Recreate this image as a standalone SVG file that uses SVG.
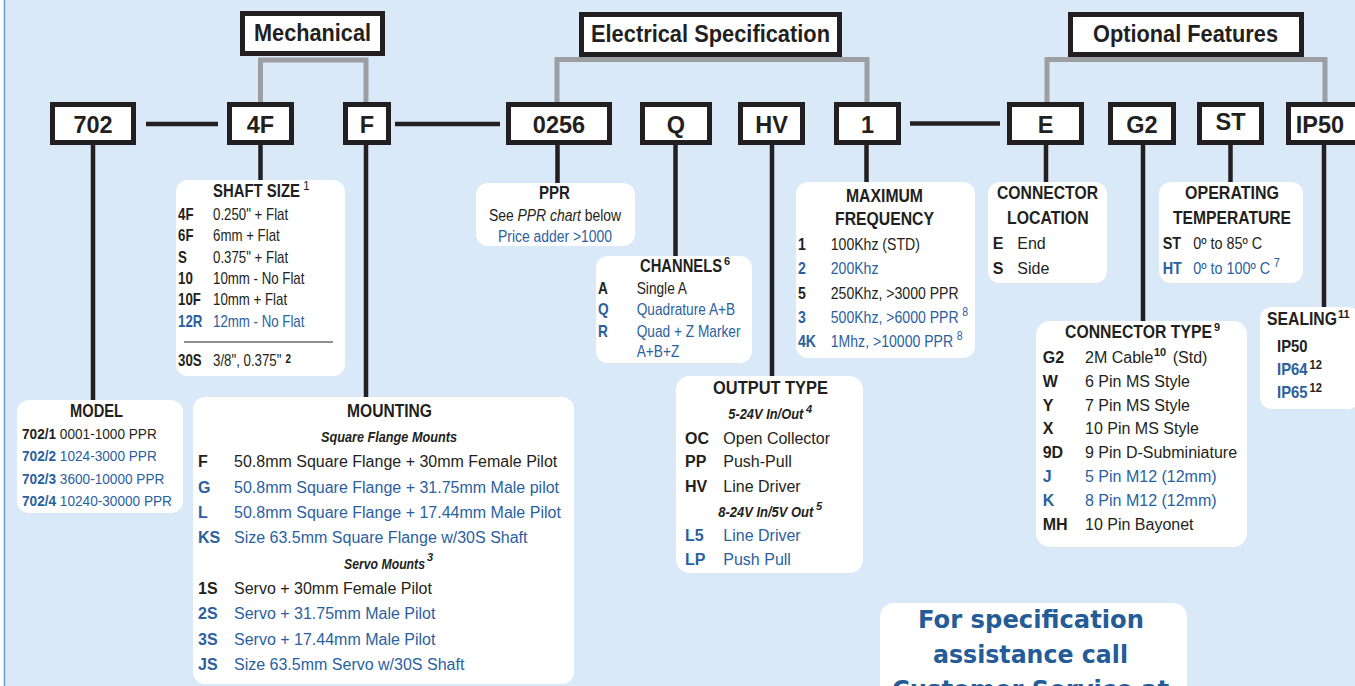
<svg xmlns="http://www.w3.org/2000/svg" width="1355" height="686" viewBox="0 0 1355 686">
<defs>
<style>
.t{font-family:'Liberation Sans',Arial,sans-serif;font-size:16px;fill:#231f20}
.m{font-size:15.5px}
.b{font-weight:bold}
.i{font-style:italic}
.u{fill:#2b5f9f}
.k{fill:#231f20}
.ttl{font-family:'Liberation Sans',Arial,sans-serif;font-weight:bold;font-size:18.5px;fill:#231f20}
.sub{font-family:'Liberation Sans',Arial,sans-serif;font-weight:bold;font-style:italic;font-size:14.5px;fill:#231f20}
.code{font-family:'Liberation Sans',Arial,sans-serif;font-weight:bold;font-size:23.5px;fill:#231f20;text-anchor:middle}
.hdr{font-family:'Liberation Sans',Arial,sans-serif;font-weight:bold;font-size:24px;fill:#231f20}
.mid{text-anchor:middle}
.sup{font-size:11px}
.cbox{fill:#fff;stroke:#231f20;stroke-width:5}
.ibox{fill:#fff}
.ln{stroke:#231f20;stroke-width:4.5;fill:none}
.gr{stroke:#9c9ea1;stroke-width:5;fill:none}
.call{font-family:'DejaVu Sans',Verdana,sans-serif;font-weight:bold;font-size:25.5px;fill:#245c98}
</style>
</defs>

<rect x="0" y="0" width="1355" height="686" fill="#d9e9f7"/>
<rect x="0" y="0" width="4" height="686" fill="#ffffff"/>
<line x1="4.5" y1="0" x2="4.5" y2="686" stroke="#6d9fd0" stroke-width="1.5"/>

<g id="connectors">
<polyline class="gr" points="260.5,102 260.5,60 366,60 366,102"/>
<polyline class="gr" points="557,102 557,59.5 867,59.5 867,102"/>
<polyline class="gr" points="1047,102 1047,59.5 1325,59.5 1325,102"/>
<line class="ln" stroke-width="5" x1="146" y1="124" x2="218" y2="124"/>
<line class="ln" stroke-width="5" x1="395" y1="124" x2="500" y2="124"/>
<line class="ln" stroke-width="5" x1="910" y1="123.5" x2="1000" y2="123.5"/>
<line class="ln" x1="93" y1="145" x2="93" y2="402" stroke="#0f1c28"/>
<line class="ln" x1="260.5" y1="145" x2="260.5" y2="182"/>
<line class="ln" x1="366" y1="145" x2="366" y2="399"/>
<line class="ln" x1="557.5" y1="145" x2="557.5" y2="185" stroke="#0f1c28"/>
<line class="ln" x1="675.5" y1="145" x2="675.5" y2="258"/>
<line class="ln" x1="772" y1="145" x2="772" y2="378"/>
<line class="ln" x1="866.5" y1="145" x2="866.5" y2="184"/>
<line class="ln" x1="1046" y1="145" x2="1046" y2="184"/>
<line class="ln" x1="1143" y1="145" x2="1143" y2="323"/>
<line class="ln" x1="1230.5" y1="145" x2="1230.5" y2="184"/>
<line class="ln" x1="1324" y1="145" x2="1324" y2="309"/>
</g>

<g id="hdr-mechanical">
<rect class="cbox" x="242.5" y="13.5" width="140" height="40"/>
<text class="hdr" x="254" y="41" textLength="117" lengthAdjust="spacingAndGlyphs">Mechanical</text>
</g>
<g id="hdr-electrical">
<rect class="cbox" x="581.5" y="14.5" width="258" height="40"/>
<text class="hdr" x="591" y="41.5" textLength="239" lengthAdjust="spacingAndGlyphs">Electrical Specification</text>
</g>
<g id="hdr-optional">
<rect class="cbox" x="1070.5" y="14.5" width="231" height="40"/>
<text class="hdr" x="1093" y="41.5" textLength="185" lengthAdjust="spacingAndGlyphs">Optional Features</text>
</g>

<g id="code-702"><rect class="cbox" x="52.5" y="104.5" width="81" height="38" stroke="#0f1c28"/><text class="code" x="93" y="132.5">702</text></g>
<g id="code-4F"><rect class="cbox" x="229.5" y="104.5" width="62" height="38"/><text class="code" x="260.5" y="132.5">4F</text></g>
<g id="code-F"><rect class="cbox" x="345.5" y="104.5" width="43" height="38"/><text class="code" x="367" y="132.5">F</text></g>
<g id="code-0256"><rect class="cbox" x="508.5" y="104.5" width="101" height="38"/><text class="code" x="559" y="132.5">0256</text></g>
<g id="code-Q"><rect class="cbox" x="642.5" y="104.5" width="67" height="38"/><text class="code" x="676" y="132.5">Q</text></g>
<g id="code-HV"><rect class="cbox" x="740.5" y="104.5" width="62" height="38"/><text class="code" x="771.5" y="132.5">HV</text></g>
<g id="code-1"><rect class="cbox" x="836.5" y="104.5" width="62" height="38"/><text class="code" x="867.5" y="132.5">1</text></g>
<g id="code-E"><rect class="cbox" x="1009.5" y="104.5" width="72" height="38"/><text class="code" x="1045.5" y="132.5">E</text></g>
<g id="code-G2"><rect class="cbox" x="1110.5" y="104.5" width="63" height="38"/><text class="code" x="1142" y="132.5">G2</text></g>
<g id="code-ST"><rect class="cbox" x="1199.5" y="104.5" width="62" height="38"/><text class="code" x="1230.5" y="130">ST</text></g>
<g id="code-IP50"><rect class="cbox" x="1288.5" y="104.5" width="72" height="38"/><text class="code" x="1320" y="132.5">IP50</text></g>

<g id="shaft-size">
<rect class="ibox" x="176" y="180" width="169" height="196" rx="12"/>
<text class="ttl" x="213" y="197" textLength="87" lengthAdjust="spacingAndGlyphs">SHAFT SIZE</text>
<text class="t sup" x="303" y="190" style="font-size:12px">1</text>
<g transform="translate(178,0) scale(0.83,1)">
<text class="t b" x="0" y="220">4F</text><text class="t" x="42.2" y="220">0.250" + Flat</text>
<text class="t b" x="0" y="241.3">6F</text><text class="t" x="42.2" y="241.3">6mm + Flat</text>
<text class="t b" x="0" y="262.7">S</text><text class="t" x="42.2" y="262.7">0.375" + Flat</text>
<text class="t b" x="0" y="284">10</text><text class="t" x="42.2" y="284">10mm - No Flat</text>
<text class="t b" x="0" y="305.3">10F</text><text class="t" x="42.2" y="305.3">10mm + Flat</text>
<text class="t b u" x="0" y="326.7">12R</text><text class="t u" x="42.2" y="326.7">12mm - No Flat</text>
<text class="t b" x="0" y="366">30S</text><text class="t" x="42.2" y="366">3/8", 0.375"<tspan class="b" style="font-size:12px" dx="5" dy="-3">2</tspan></text>
</g>
<line x1="184" y1="342" x2="333" y2="342" stroke="#231f20" stroke-width="1"/>
</g>

<g id="model">
<rect class="ibox" x="17" y="400" width="166" height="113" rx="12"/>
<text class="ttl" x="70" y="417" textLength="53" lengthAdjust="spacingAndGlyphs">MODEL</text>
<g transform="translate(22,0) scale(0.88,1)">
<text class="t m" x="0" y="439"><tspan class="b">702/1</tspan> 0001-1000 PPR</text>
<text class="t m u" x="0" y="461.5"><tspan class="b">702/2</tspan> 1024-3000 PPR</text>
<text class="t m u" x="0" y="484"><tspan class="b">702/3</tspan> 3600-10000 PPR</text>
<text class="t m u" x="0" y="506.5"><tspan class="b">702/4</tspan> 10240-30000 PPR</text>
</g>
</g>

<g id="mounting">
<rect class="ibox" x="193" y="397" width="381" height="287" rx="12"/>
<text class="ttl" x="347" y="417" textLength="85" lengthAdjust="spacingAndGlyphs">MOUNTING</text>
<text class="sub" x="321" y="442" textLength="136" lengthAdjust="spacingAndGlyphs">Square Flange Mounts</text>
<text class="t b" x="198" y="467.3">F</text><text class="t" x="234" y="467.3">50.8mm Square Flange + 30mm Female Pilot</text>
<text class="t b u" x="198" y="492.7">G</text><text class="t u" x="234" y="492.7">50.8mm Square Flange + 31.75mm Male pilot</text>
<text class="t b u" x="198" y="518.3">L</text><text class="t u" x="234" y="518.3">50.8mm Square Flange + 17.44mm Male Pilot</text>
<text class="t b u" x="198" y="543.3">KS</text><text class="t u" x="234" y="543.3">Size 63.5mm Square Flange w/30S Shaft</text>
<text class="sub" x="344" y="569" textLength="81" lengthAdjust="spacingAndGlyphs">Servo Mounts</text>
<text class="sub sup" x="427" y="561">3</text>
<text class="t b" x="198" y="594.3">1S</text><text class="t" x="234" y="594.3">Servo + 30mm Female Pilot</text>
<text class="t b u" x="198" y="619.3">2S</text><text class="t u" x="234" y="619.3">Servo + 31.75mm Male Pilot</text>
<text class="t b u" x="198" y="644.7">3S</text><text class="t u" x="234" y="644.7">Servo + 17.44mm Male Pilot</text>
<text class="t b u" x="198" y="670">JS</text><text class="t u" x="234" y="670">Size 63.5mm Servo w/30S Shaft</text>
</g>

<g id="ppr">
<rect class="ibox" x="476" y="183" width="159" height="63" rx="12"/>
<text class="ttl" x="539" y="199" textLength="31" lengthAdjust="spacingAndGlyphs">PPR</text>
<g transform="translate(555,0) scale(0.87,1)">
<text class="t mid" x="0" y="220.7">See <tspan class="i">PPR chart</tspan> below</text>
<text class="t u mid" x="0" y="241.7">Price adder &gt;1000</text>
</g>
</g>

<g id="channels">
<rect class="ibox" x="596" y="256" width="156" height="107" rx="12"/>
<text class="ttl" x="640" y="271.7" textLength="82" lengthAdjust="spacingAndGlyphs">CHANNELS</text>
<text class="ttl sup" x="724" y="265">6</text>
<g transform="translate(598,0) scale(0.855,1)">
<text class="t b" x="0" y="294.3">A</text><text class="t" x="45.3" y="294.3">Single A</text>
<text class="t b u" x="0" y="315.3">Q</text><text class="t u" x="45.3" y="315.3">Quadrature A+B</text>
<text class="t b u" x="0" y="336.7">R</text><text class="t u" x="45.3" y="336.7">Quad + Z Marker</text>
<text class="t u" x="45.3" y="357">A+B+Z</text>
</g>
</g>

<g id="output-type">
<rect class="ibox" x="676" y="376" width="187" height="197" rx="14"/>
<text class="ttl" x="713" y="394" textLength="115" lengthAdjust="spacingAndGlyphs">OUTPUT TYPE</text>
<text class="sub" x="728.3" y="419.3" textLength="75" lengthAdjust="spacingAndGlyphs">5-24V In/Out</text>
<text class="sub sup" x="806" y="413">4</text>
<text class="t b" x="685" y="444">OC</text><text class="t" x="723.3" y="444">Open Collector</text>
<text class="t b" x="685" y="467">PP</text><text class="t" x="723.3" y="467">Push-Pull</text>
<text class="t b" x="685" y="491.7">HV</text><text class="t" x="723.3" y="491.7">Line Driver</text>
<text class="sub" x="718.3" y="516.7" textLength="95" lengthAdjust="spacingAndGlyphs">8-24V In/5V Out</text>
<text class="sub sup" x="816" y="510">5</text>
<text class="t b u" x="685" y="540.7">L5</text><text class="t u" x="723.3" y="540.7">Line Driver</text>
<text class="t b u" x="685" y="565">LP</text><text class="t u" x="723.3" y="565">Push Pull</text>
</g>

<g id="max-frequency">
<rect class="ibox" x="796" y="182" width="179" height="176" rx="12"/>
<text class="ttl" x="846" y="201.7" textLength="77" lengthAdjust="spacingAndGlyphs">MAXIMUM</text>
<text class="ttl" x="835" y="225" textLength="99" lengthAdjust="spacingAndGlyphs">FREQUENCY</text>
<g transform="translate(798,0) scale(0.88,1)">
<text class="t b" x="0" y="250.5">1</text><text class="t" x="37.2" y="250.5">100Khz (STD)</text>
<text class="t b u" x="0" y="274.5">2</text><text class="t u" x="37.2" y="274.5">200Khz</text>
<text class="t b" x="0" y="299.5">5</text><text class="t" x="37.2" y="299.5">250Khz, &gt;3000 PPR</text>
<text class="t b u" x="0" y="323.5">3</text><text class="t u" x="37.2" y="323.5">500Khz, &gt;6000 PPR<tspan class="sup" style="font-size:12px" dx="4" dy="-7">8</tspan></text>
<text class="t b u" x="0" y="347.5">4K</text><text class="t u" x="37.2" y="347.5">1Mhz, &gt;10000 PPR<tspan class="sup" style="font-size:12px" dx="4" dy="-7">8</tspan></text>
</g>
</g>

<g id="connector-location">
<rect class="ibox" x="988" y="182" width="119" height="101" rx="12"/>
<text class="ttl" x="997" y="199.3" textLength="101" lengthAdjust="spacingAndGlyphs">CONNECTOR</text>
<text class="ttl" x="1007" y="224" textLength="81.6" lengthAdjust="spacingAndGlyphs">LOCATION</text>
<text class="t b" x="992.7" y="249.3">E</text><text class="t" x="1017.3" y="249.3">End</text>
<text class="t b" x="992.7" y="274">S</text><text class="t" x="1017.3" y="274">Side</text>
</g>

<g id="operating-temperature">
<rect class="ibox" x="1159" y="182" width="144" height="101" rx="12"/>
<text class="ttl" x="1185" y="199.3" textLength="94" lengthAdjust="spacingAndGlyphs">OPERATING</text>
<text class="ttl" x="1173" y="224" textLength="118" lengthAdjust="spacingAndGlyphs">TEMPERATURE</text>
<g transform="translate(1162.7,0) scale(0.9,1)">
<text class="t b" x="0" y="249.3">ST</text><text class="t" x="34" y="249.3">0º to 85º C</text>
<text class="t b u" x="0" y="274">HT</text><text class="t u" x="34" y="274">0º to 100º C<tspan class="sup" style="font-size:12px" dx="4" dy="-7">7</tspan></text>
</g>
</g>

<g id="connector-type">
<rect class="ibox" x="1036" y="321" width="211" height="226" rx="14"/>
<text class="ttl" x="1065" y="338.3" textLength="147" lengthAdjust="spacingAndGlyphs">CONNECTOR TYPE</text>
<text class="ttl sup" x="1214" y="331">9</text>
<text class="t b" x="1042.7" y="363">G2</text><text class="t" x="1085" y="363">2M Cable</text><text class="t b sup" x="1154" y="356">10</text><text class="t" x="1172.7" y="363">(Std)</text>
<text class="t b" x="1042.7" y="386.8">W</text><text class="t" x="1085" y="386.8">6 Pin MS Style</text>
<text class="t b" x="1042.7" y="410.6">Y</text><text class="t" x="1085" y="410.6">7 Pin MS Style</text>
<text class="t b" x="1042.7" y="434.4">X</text><text class="t" x="1085" y="434.4">10 Pin MS Style</text>
<text class="t b" x="1042.7" y="458.2">9D</text><text class="t" x="1085" y="458.2">9 Pin D-Subminiature</text>
<text class="t b u" x="1042.7" y="482">J</text><text class="t u" x="1085" y="482">5 Pin M12 (12mm)</text>
<text class="t b u" x="1042.7" y="505.8">K</text><text class="t u" x="1085" y="505.8">8 Pin M12 (12mm)</text>
<text class="t b" x="1042.7" y="529.6">MH</text><text class="t" x="1085" y="529.6">10 Pin Bayonet</text>
</g>

<g id="sealing">
<rect class="ibox" x="1260" y="307" width="100" height="102" rx="12"/>
<text class="ttl" x="1267" y="325" textLength="70" lengthAdjust="spacingAndGlyphs">SEALING</text>
<text class="ttl sup" x="1338" y="318">11</text>
<g transform="translate(1277,0) scale(0.93,1)">
<text class="t b" x="0" y="351.7">IP50</text>
<text class="t b u" x="0" y="375">IP64<tspan class="k sup" style="font-size:12px" dx="2" dy="-6">12</tspan></text>
<text class="t b u" x="0" y="398.3">IP65<tspan class="k sup" style="font-size:12px" dx="2" dy="-6">12</tspan></text>
</g>
</g>

<g id="customer-service">
<rect class="ibox" x="880" y="603" width="307" height="110" rx="14"/>
<text class="call" x="918" y="628" textLength="226" lengthAdjust="spacingAndGlyphs">For specification</text>
<text class="call" x="933" y="663" textLength="195" lengthAdjust="spacingAndGlyphs">assistance call</text>
<text class="call" x="892" y="698" textLength="277" lengthAdjust="spacingAndGlyphs">Customer Service at</text>
</g>
</svg>
